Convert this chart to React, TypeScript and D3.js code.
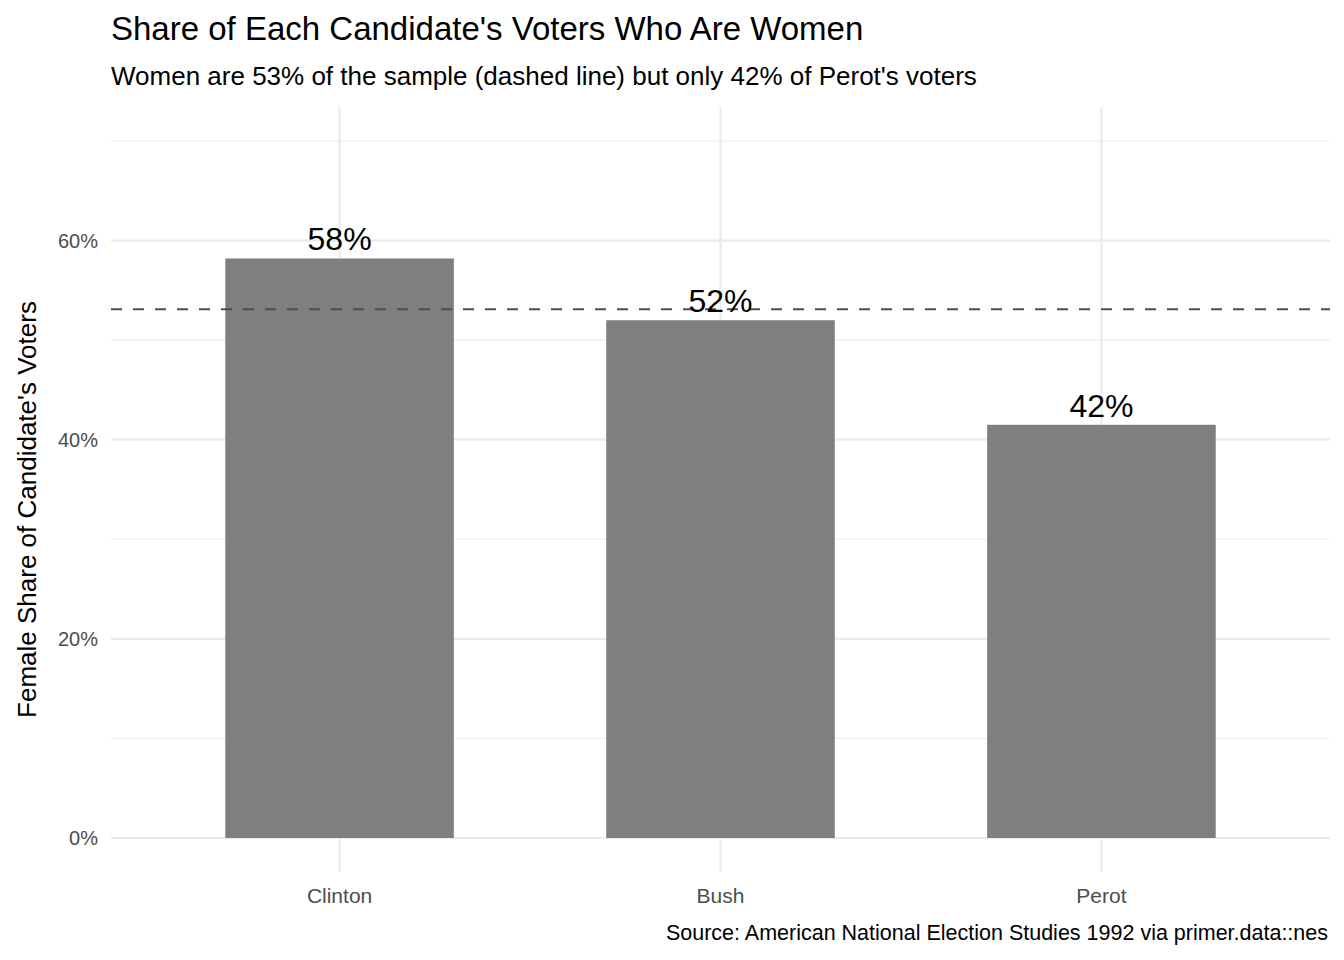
import React, { useEffect, useRef } from "react"
import * as d3 from "d3"

const candidates = ["Clinton", "Bush", "Perot"]
const femaleShare = [0.582, 0.52, 0.415]
const sampleShare = 0.531
const majorTicks = [0, 0.2, 0.4, 0.6]
const minorTicks = [0.1, 0.3, 0.5, 0.7]

const W = 1344
const H = 960
const FONT = "'Liberation Sans', Arial, sans-serif"

export default function App() {
  const ref = useRef<SVGSVGElement | null>(null)

  useEffect(() => {
    const svg = d3.select(ref.current)
    svg.selectAll("*").remove()
    const left = 111, right = 1330, top = 107, bottom = 872

    const x = d3.scalePoint<string>().domain(candidates).range([left, right]).padding(0.6)
    const y = d3.scaleLinear().domain([0, 0.7]).range([838, 141])
    const bw = x.step() * 0.6

    const g = svg.append("g")
    minorTicks.forEach((t) =>
      g.append("line").attr("x1", left).attr("x2", right).attr("y1", y(t)).attr("y2", y(t))
        .attr("stroke", "#ebebeb").attr("stroke-width", 1.1))
    majorTicks.forEach((t) =>
      g.append("line").attr("x1", left).attr("x2", right).attr("y1", y(t)).attr("y2", y(t))
        .attr("stroke", "#ebebeb").attr("stroke-width", 2.2))
    candidates.forEach((c) =>
      g.append("line").attr("x1", x(c)!).attr("x2", x(c)!).attr("y1", top).attr("y2", bottom)
        .attr("stroke", "#ebebeb").attr("stroke-width", 2.2))

    candidates.forEach((c, i) => {
      g.append("rect").attr("x", x(c)! - bw / 2).attr("width", bw)
        .attr("y", y(femaleShare[i])).attr("height", y(0) - y(femaleShare[i])).attr("fill", "#7f7f7f")
    })

    g.append("line").attr("x1", left).attr("x2", right).attr("y1", y(sampleShare)).attr("y2", y(sampleShare))
      .attr("stroke", "#4d4d4d").attr("stroke-width", 2).attr("stroke-dasharray", "11,11")

    candidates.forEach((c, i) => {
      g.append("text").attr("x", x(c)!).attr("y", y(femaleShare[i]) - 8).attr("text-anchor", "middle")
        .attr("font-size", 32).attr("fill", "#000").text(d3.format(".0%")(femaleShare[i]))
    })

    majorTicks.forEach((t) =>
      g.append("text").attr("x", 98).attr("y", y(t) + 7).attr("text-anchor", "end")
        .attr("font-size", 20).attr("fill", "#4d4d4d").text(d3.format(".0%")(t)))
    candidates.forEach((c) =>
      g.append("text").attr("x", x(c)!).attr("y", 903).attr("text-anchor", "middle")
        .attr("font-size", 21).attr("fill", "#4d4d4d").text(c))

    g.append("text").attr("transform", `translate(36,${(top + bottom) / 2 + 20}) rotate(-90)`)
      .attr("text-anchor", "middle").attr("font-size", 26).text("Female Share of Candidate's Voters")
    g.append("text").attr("x", 111).attr("y", 40).attr("font-size", 33).text("Share of Each Candidate's Voters Who Are Women")
    g.append("text").attr("x", 111).attr("y", 85).attr("font-size", 26)
      .text("Women are 53% of the sample (dashed line) but only 42% of Perot's voters")
    g.append("text").attr("x", 1328).attr("y", 940).attr("text-anchor", "end").attr("font-size", 21.5)
      .text("Source: American National Election Studies 1992 via primer.data::nes")
  }, [])

  return (
    <svg ref={ref} width={W} height={H} fontFamily={FONT}
      style={{ position: "absolute", left: 0, top: 0, background: "#fff" }} />
  )
}
